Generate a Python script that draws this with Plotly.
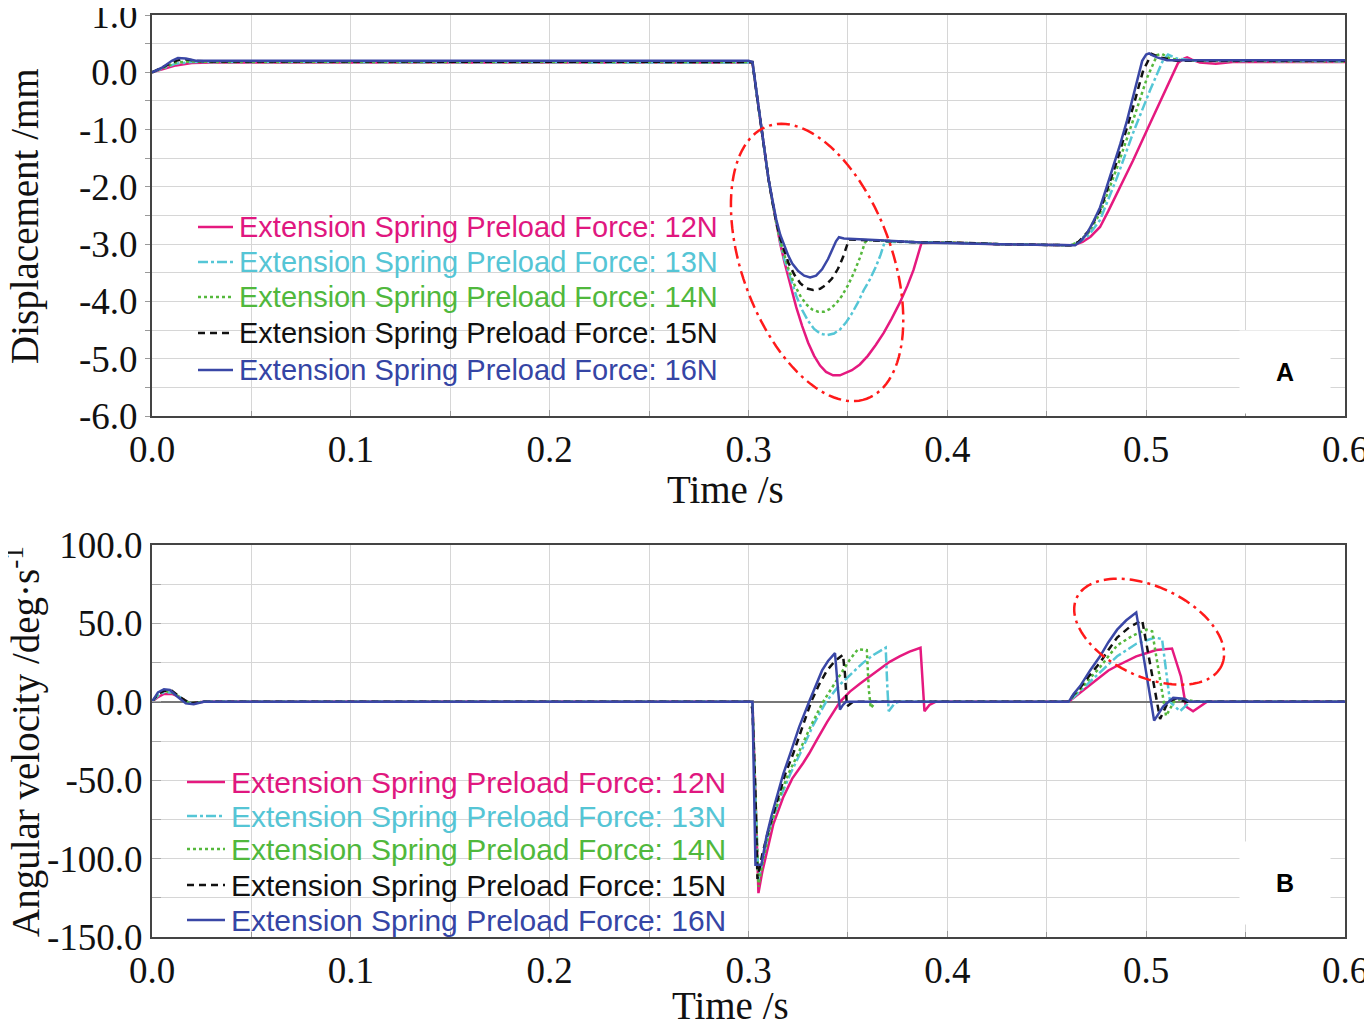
import numpy as np
import plotly.graph_objects as go

# ---------------- data ----------------
labels = ["Extension Spring Preload Force: 12N", "Extension Spring Preload Force: 13N",
          "Extension Spring Preload Force: 14N", "Extension Spring Preload Force: 15N",
          "Extension Spring Preload Force: 16N"]

# (A) displacement /mm
t_d12 = [0, 0.005, 0.012, 0.020, 0.030, 0.300, 0.302, 0.304, 0.306, 0.308, 0.310, 0.312, 0.314, 0.316, 0.318,
         0.321, 0.324, 0.327, 0.330, 0.333, 0.336, 0.339, 0.3425, 0.346, 0.349, 0.352, 0.356, 0.360, 0.364,
         0.368, 0.372, 0.376, 0.380, 0.383, 0.387, 0.400, 0.4266, 0.462, 0.465, 0.468, 0.472, 0.4768, 0.481,
         0.4854, 0.4934, 0.502, 0.5105, 0.514, 0.516, 0.519, 0.5206, 0.523, 0.527, 0.535, 0.5435, 0.600]
d12 = [0, 0.05, 0.12, 0.16, 0.17, 0.17, 0.16, -0.35, -0.85, -1.35, -1.85, -2.25, -2.65, -3.0, -3.3,
       -3.72, -4.1, -4.43, -4.72, -4.95, -5.12, -5.23, -5.29, -5.29, -5.25, -5.2, -5.1, -4.95, -4.76,
       -4.55, -4.3, -4.03, -3.72, -3.45, -2.98, -2.97, -3.0, -3.02, -3.0, -2.96, -2.87, -2.7, -2.42,
       -2.11, -1.54, -0.89, -0.26, 0.02, 0.16, 0.24, 0.26, 0.22, 0.17, 0.15, 0.18, 0.18]

t_d13 = [0, 0.005, 0.012, 0.020, 0.030, 0.300, 0.302, 0.304, 0.306, 0.308, 0.310, 0.312, 0.314, 0.316, 0.318,
         0.321, 0.324, 0.327, 0.330, 0.333, 0.336, 0.3395, 0.343, 0.346, 0.349, 0.352, 0.355, 0.358, 0.361,
         0.364, 0.3665, 0.3685, 0.387, 0.400, 0.4266, 0.462, 0.466, 0.471, 0.4768, 0.481, 0.4854, 0.4934,
         0.502, 0.5085, 0.511, 0.5155, 0.525, 0.600]
d13 = [0, 0.06, 0.15, 0.18, 0.18, 0.18, 0.17, -0.35, -0.85, -1.35, -1.85, -2.25, -2.64, -2.96, -3.26,
       -3.6, -3.9, -4.15, -4.34, -4.48, -4.56, -4.59, -4.56, -4.49, -4.37, -4.21, -4.02, -3.8, -3.62,
       -3.4, -3.18, -2.96, -2.97, -2.97, -3.0, -3.02, -2.97, -2.85, -2.58, -2.22, -1.83, -1.06,
       -0.31, 0.21, 0.31, 0.24, 0.2, 0.19]

t_d14 = [0, 0.005, 0.012, 0.020, 0.030, 0.300, 0.302, 0.304, 0.306, 0.308, 0.310, 0.312, 0.314, 0.316, 0.318,
         0.320, 0.323, 0.326, 0.329, 0.332, 0.335, 0.338, 0.341, 0.344, 0.347, 0.350, 0.353, 0.356, 0.3585,
         0.3595, 0.387, 0.400, 0.4266, 0.462, 0.466, 0.471, 0.4768, 0.481, 0.4854, 0.4934, 0.5005, 0.5055,
         0.508, 0.512, 0.520, 0.600]
d14 = [0, 0.07, 0.17, 0.19, 0.18, 0.18, 0.17, -0.35, -0.85, -1.35, -1.85, -2.25, -2.64, -2.94, -3.2,
       -3.42, -3.7, -3.9, -4.05, -4.14, -4.18, -4.18, -4.13, -4.04, -3.9, -3.72, -3.5, -3.24, -2.98,
       -2.93, -2.97, -2.97, -3.0, -3.02, -2.96, -2.8, -2.46, -2.08, -1.66, -0.84, -0.09, 0.3,
       0.32, 0.24, 0.2, 0.19]

t_d15 = [0, 0.005, 0.012, 0.016, 0.022, 0.030, 0.300, 0.302, 0.304, 0.306, 0.308, 0.310, 0.312, 0.314, 0.316,
         0.318, 0.320, 0.323, 0.326, 0.329, 0.3325, 0.336, 0.339, 0.342, 0.345, 0.3475, 0.3495, 0.3505, 0.387,
         0.400, 0.4266, 0.462, 0.466, 0.471, 0.4768, 0.481, 0.4854, 0.4934, 0.4985, 0.5027, 0.507, 0.515, 0.600]
d15 = [0, 0.08, 0.2, 0.23, 0.2, 0.19, 0.19, 0.18, -0.35, -0.85, -1.35, -1.85, -2.25, -2.62, -2.9,
       -3.12, -3.32, -3.53, -3.68, -3.77, -3.8, -3.78, -3.71, -3.6, -3.43, -3.23, -3.02, -2.92, -2.97,
       -2.97, -3.0, -3.02, -2.96, -2.77, -2.41, -1.98, -1.54, -0.61, 0.03, 0.32, 0.26, 0.2, 0.2]

t_d16 = [0, 0.005, 0.010, 0.013, 0.017, 0.022, 0.030, 0.300, 0.302, 0.304, 0.306, 0.308, 0.310, 0.312, 0.314,
         0.316, 0.318, 0.320, 0.322, 0.325, 0.328, 0.331, 0.334, 0.337, 0.340, 0.342, 0.344, 0.3455, 0.348,
         0.366, 0.387, 0.4266, 0.4643, 0.467, 0.4703, 0.4735, 0.4768, 0.480, 0.4834, 0.487, 0.4904, 0.493,
         0.4954, 0.498, 0.500, 0.5015, 0.503, 0.5055, 0.5105, 0.520, 0.600]
d16 = [0, 0.08, 0.2, 0.25, 0.24, 0.2, 0.2, 0.2, 0.18, -0.35, -0.85, -1.35, -1.85, -2.22, -2.58,
       -2.84, -3.03, -3.2, -3.34, -3.47, -3.55, -3.58, -3.55, -3.44, -3.26, -3.1, -2.95, -2.88, -2.9,
       -2.93, -2.97, -3.0, -3.02, -2.95, -2.81, -2.6, -2.36, -2.02, -1.66, -1.25, -0.84, -0.5,
       -0.14, 0.2, 0.31, 0.33, 0.3, 0.26, 0.21, 0.21, 0.21]

# (B) angular velocity /deg.s-1
t_v12 = [0, 0.003, 0.006, 0.010, 0.014, 0.019, 0.026, 0.302, 0.3035, 0.305, 0.307, 0.3093, 0.3125, 0.3174,
         0.322, 0.3275, 0.3305, 0.3345, 0.3395, 0.346, 0.351, 0.356, 0.361, 0.365, 0.371, 0.376, 0.381, 0.3865,
         0.3875, 0.3885, 0.391, 0.394, 0.461, 0.4635, 0.4668, 0.471, 0.4768, 0.481, 0.4854, 0.490, 0.495,
         0.500, 0.505, 0.513, 0.5175, 0.520, 0.5236, 0.5306, 0.600]
v12 = [0, 3, 5, 5, 3, -1, 0, 0, -60, -122, -108, -96, -78, -61,
       -49, -39, -33, -24, -13, 0, 6.5, 11.5, 16, 20, 25.5, 29, 32, 34.5,
       10, -6, -2, 0, 0, 2.5, 5.5, 10, 16, 20, 23, 26, 29,
       31, 33, 34, 16, -3, -6, 0, 0]

t_v13 = [0, 0.003, 0.006, 0.010, 0.014, 0.019, 0.026, 0.302, 0.3035, 0.305, 0.3075, 0.311, 0.316, 0.321,
         0.326, 0.3325, 0.339, 0.346, 0.3535, 0.3577, 0.363, 0.369, 0.3698, 0.3705, 0.3735, 0.3755, 0.461,
         0.4635, 0.4668, 0.471, 0.4768, 0.481, 0.4854, 0.495, 0.5045, 0.508, 0.512, 0.517, 0.522, 0.600]
v13 = [0, 4, 6, 6, 3, -1, 0, 0, -60, -114, -98, -79, -61, -46,
       -33, -15, 0, 11, 20, 25, 30, 34.5, 10, -6, -1, 0, 0,
       3, 7, 12, 19, 24, 29, 37, 41, 40, 0, -6, 0, 0]

t_v14 = [0, 0.003, 0.006, 0.010, 0.014, 0.019, 0.026, 0.302, 0.3035, 0.305, 0.3075, 0.311, 0.3155, 0.320,
         0.325, 0.3315, 0.3375, 0.3425, 0.3476, 0.351, 0.355, 0.3595, 0.3605, 0.3615, 0.364, 0.461, 0.4635,
         0.4668, 0.471, 0.4768, 0.481, 0.4854, 0.493, 0.500, 0.503, 0.510, 0.514, 0.518, 0.525, 0.600]
v14 = [0, 5, 7, 6, 3, -1, 0, 0, -60, -118, -100, -80, -61, -46,
       -33, -15, 0, 10, 20, 27, 33.5, 33, 8, -4, 0, 0, 4,
       8, 14, 22, 29, 36, 42, 46, 45, -9, 0, 2, 0, 0]

t_v15 = [0, 0.003, 0.006, 0.010, 0.014, 0.019, 0.026, 0.301, 0.302, 0.3035, 0.3045, 0.307, 0.310, 0.315,
         0.3185, 0.3225, 0.327, 0.3315, 0.3355, 0.3395, 0.3435, 0.3475, 0.3485, 0.3495, 0.3525, 0.461,
         0.4635, 0.4668, 0.471, 0.4768, 0.481, 0.4854, 0.492, 0.498, 0.507, 0.511, 0.515, 0.520, 0.600]
v15 = [0, 5, 7, 7, 3, -1, 0, 0, -5, -60, -113, -97, -82, -61,
       -46, -33, -16, 0, 11, 20, 26, 30, 18, -3, 0, 0,
       4.5, 9, 16, 25, 33, 41, 48, 52, -11, 0, 2, 0, 0]

t_v16 = [0, 0.003, 0.006, 0.009, 0.013, 0.017, 0.021, 0.026, 0.302, 0.3035, 0.3065, 0.309, 0.3115, 0.314,
         0.3175, 0.321, 0.3255, 0.3305, 0.3337, 0.337, 0.340, 0.3435, 0.345, 0.346, 0.3475, 0.349, 0.461,
         0.4635, 0.4668, 0.4718, 0.4768, 0.481, 0.4854, 0.490, 0.495, 0.504, 0.5085, 0.5136, 0.519, 0.522, 0.600]
v16 = [0, 6, 8, 7.5, 3, -1, -1.5, 0, 0, -104, -104, -86, -73, -61,
       -46, -33, -16, 0, 10, 20, 26, 31, 8, -5, -2, 0, 0,
       5, 10, 20, 29, 38, 46, 52, 57, -12, -3, 2.5, 2, 0, 0]

disp_series = [(t_d12, d12), (t_d13, d13), (t_d14, d14), (t_d15, d15), (t_d16, d16)]
vel_series = [(t_v12, v12), (t_v13, v13), (t_v14, v14), (t_v15, v15), (t_v16, v16)]

x_ticks = [0, 0.1, 0.2, 0.3, 0.4, 0.5, 0.6]
x_ticktext = ["0.0", "0.1", "0.2", "0.3", "0.4", "0.5", "0.6"]
disp_ticks = [1, 0, -1, -2, -3, -4, -5, -6]
disp_ticktext = ["1.0", "0.0", "-1.0", "-2.0", "-3.0", "-4.0", "-5.0", "-6.0"]
vel_ticks = [100, 50, 0, -50, -100, -150]
vel_ticktext = ["100.0", "50.0", "0.0", "-50.0", "-100.0", "-150.0"]

# ---------------- styling ----------------
colors = ["#e5197f", "#55c6d6", "#55b83c", "#111111", "#3a47a6"]
text_colors = ["#e0177f", "#55c5d5", "#50b83c", "#111111", "#3545a5"]
dashes = ["solid", "10px,3px,3px,3px", "3px,3px", "7px,5px", "solid"]

# the page keeps an 8px body margin; positions below are given in page pixels
OFF = 8
W, H = 1356, 1012
ML, MR, MT, MB = 144, 19, 7, 83
plot_w, plot_h = W - ML - MR, H - MT - MB


def px(x):  # page pixel -> paper x
    return (x - OFF - ML) / plot_w


def py(y):  # page pixel -> paper y
    return (H - (y - OFF) - MB) / plot_h


top_dom = [py(416), 1.0]
bot_dom = [0.0, py(545)]

serif = "Liberation Serif"
sans = "Liberation Sans"

fig = go.Figure()
for i in range(5):
    t, d = disp_series[i]
    fig.add_trace(go.Scatter(x=t, y=d, mode="lines", xaxis="x", yaxis="y", name=labels[i],
                             line=dict(color=colors[i], width=2.5, dash=dashes[i])))
for i in range(5):
    t, v = vel_series[i]
    fig.add_trace(go.Scatter(x=t, y=v, mode="lines", xaxis="x2", yaxis="y2", name=labels[i],
                             line=dict(color=colors[i], width=2.5, dash=dashes[i])))


def ellipse_path(cx, cy, a_px, b_px, tilt_deg, px_per_x, px_per_y):
    th = np.linspace(0, 2 * np.pi, 120)
    phi = np.radians(tilt_deg)
    ex = a_px * np.cos(th) * np.cos(phi) - b_px * np.sin(th) * np.sin(phi)
    ey = a_px * np.cos(th) * np.sin(phi) + b_px * np.sin(th) * np.cos(phi)
    xs = cx + ex / px_per_x
    ys = cy - ey / px_per_y
    return "M " + " L ".join(f"{x:.5f},{y:.4f}" for x, y in zip(xs, ys)) + " Z"


px_x = plot_w / 0.6
px_top = (top_dom[1] - top_dom[0]) * plot_h / 7.0
px_bot = (bot_dom[1] - bot_dom[0]) * plot_h / 250.0
ell_style = dict(color="#ff1a1a", width=2.5, dash="13px,5px,3px,5px")
fig.add_shape(type="path", xref="x", yref="y", line=ell_style,
              path=ellipse_path(0.3345, -3.32, 145, 75, 70, px_x, px_top))
fig.add_shape(type="path", xref="x2", yref="y2", line=ell_style,
              path=ellipse_path(0.5015, 44.7, 80, 45, 25, px_x, px_bot))

# hand-built legends (white boxes, line samples and coloured labels)
legends = [dict(box=(173, 210, 728, 392), x0=198, x1=233, tx=237, rows=[227, 262, 297, 333, 370], size=29),
           dict(box=(160, 745, 735, 935), x0=187, x1=225, tx=229, rows=[782, 816, 849, 885, 920], size=30)]
annotations = []
for lg in legends:
    bx0, by0, bx1, by1 = lg["box"]
    fig.add_shape(type="rect", xref="paper", yref="paper", layer="between",
                  x0=px(bx0), x1=px(bx1), y0=py(by1), y1=py(by0),
                  fillcolor="white", line=dict(width=0))
    for i, ry in enumerate(lg["rows"]):
        fig.add_shape(type="line", xref="paper", yref="paper",
                      x0=px(lg["x0"]), x1=px(lg["x1"]), y0=py(ry), y1=py(ry),
                      line=dict(color=colors[i], width=2.5, dash=dashes[i]))
        annotations.append(dict(text=labels[i], xref="paper", yref="paper", x=px(lg["tx"]), y=py(ry),
                                xanchor="left", yanchor="middle", showarrow=False,
                                font=dict(family=sans, size=lg["size"], color=text_colors[i])))

title_font = dict(family=serif, size=39, color="#111")
annotations += [
    dict(text="Displacement /mm", xref="paper", yref="paper", x=px(25), y=py(216), textangle=-90,
         xanchor="center", yanchor="middle", showarrow=False, font=title_font),
    dict(text="Angular velocity /deg·s<sup>-1</sup>", xref="paper", yref="paper", x=px(23), y=py(742),
         textangle=-90, xanchor="center", yanchor="middle", showarrow=False, font=title_font),
    dict(text="Time /s", xref="paper", yref="paper", x=px(725), y=py(490),
         xanchor="center", yanchor="middle", showarrow=False, font=title_font),
    dict(text="Time /s", xref="paper", yref="paper", x=px(730), y=py(1005),
         xanchor="center", yanchor="middle", showarrow=False, font=title_font),
    dict(text="<b>A</b>", xref="paper", yref="paper", x=px(1285), y=py(372), xanchor="center",
         yanchor="middle", showarrow=False, font=dict(family=sans, size=25, color="black"),
         bgcolor="white", width=88, height=80),
    dict(text="<b>B</b>", xref="paper", yref="paper", x=px(1285), y=py(883), xanchor="center",
         yanchor="middle", showarrow=False, font=dict(family=sans, size=25, color="black"),
         bgcolor="white", width=88, height=80),
]

grid = "#d6d6d6"
tick_font = dict(family=serif, size=37, color="#111")
axis_common = dict(showline=True, linecolor="#444", linewidth=2, mirror=True, automargin=False,
                   ticklabeloverflow="allow", gridcolor=grid, gridwidth=1, zeroline=False,
                   tickfont=tick_font)
xcommon = dict(axis_common, range=[0, 0.6], tickvals=x_ticks, ticktext=x_ticktext,
               ticks="inside", ticklen=6, tickcolor="#999",
               minor=dict(dtick=0.05, tick0=0, showgrid=True, gridcolor=grid, ticks="inside",
                          ticklen=5, tickcolor="#999"))

fig.update_layout(
    width=W, height=H,
    margin=dict(l=ML, r=MR, t=MT, b=MB),
    plot_bgcolor="white", paper_bgcolor="white",
    showlegend=False,
    xaxis=dict(xcommon, anchor="y", domain=[0, 1]),
    xaxis2=dict(xcommon, anchor="y2", domain=[0, 1]),
    yaxis=dict(axis_common, domain=top_dom, anchor="x", range=[-6, 1],
               tickvals=disp_ticks, ticktext=disp_ticktext,
               ticks="outside", ticklen=5, tickcolor="#999",
               minor=dict(dtick=0.5, tick0=0, showgrid=True, gridcolor=grid, ticks="outside",
                          ticklen=5, tickcolor="#999")),
    yaxis2=dict(axis_common, domain=bot_dom, anchor="x2", range=[-150, 100],
                tickvals=vel_ticks, ticktext=vel_ticktext,
                ticks="inside", ticklen=9, tickcolor="#aaa",
                zeroline=True, zerolinecolor="#777", zerolinewidth=1.5,
                minor=dict(dtick=25, tick0=0, showgrid=True, gridcolor=grid, ticks="inside",
                           ticklen=9, tickcolor="#aaa")),
    annotations=annotations,
)

fig.write_html("out.html")
